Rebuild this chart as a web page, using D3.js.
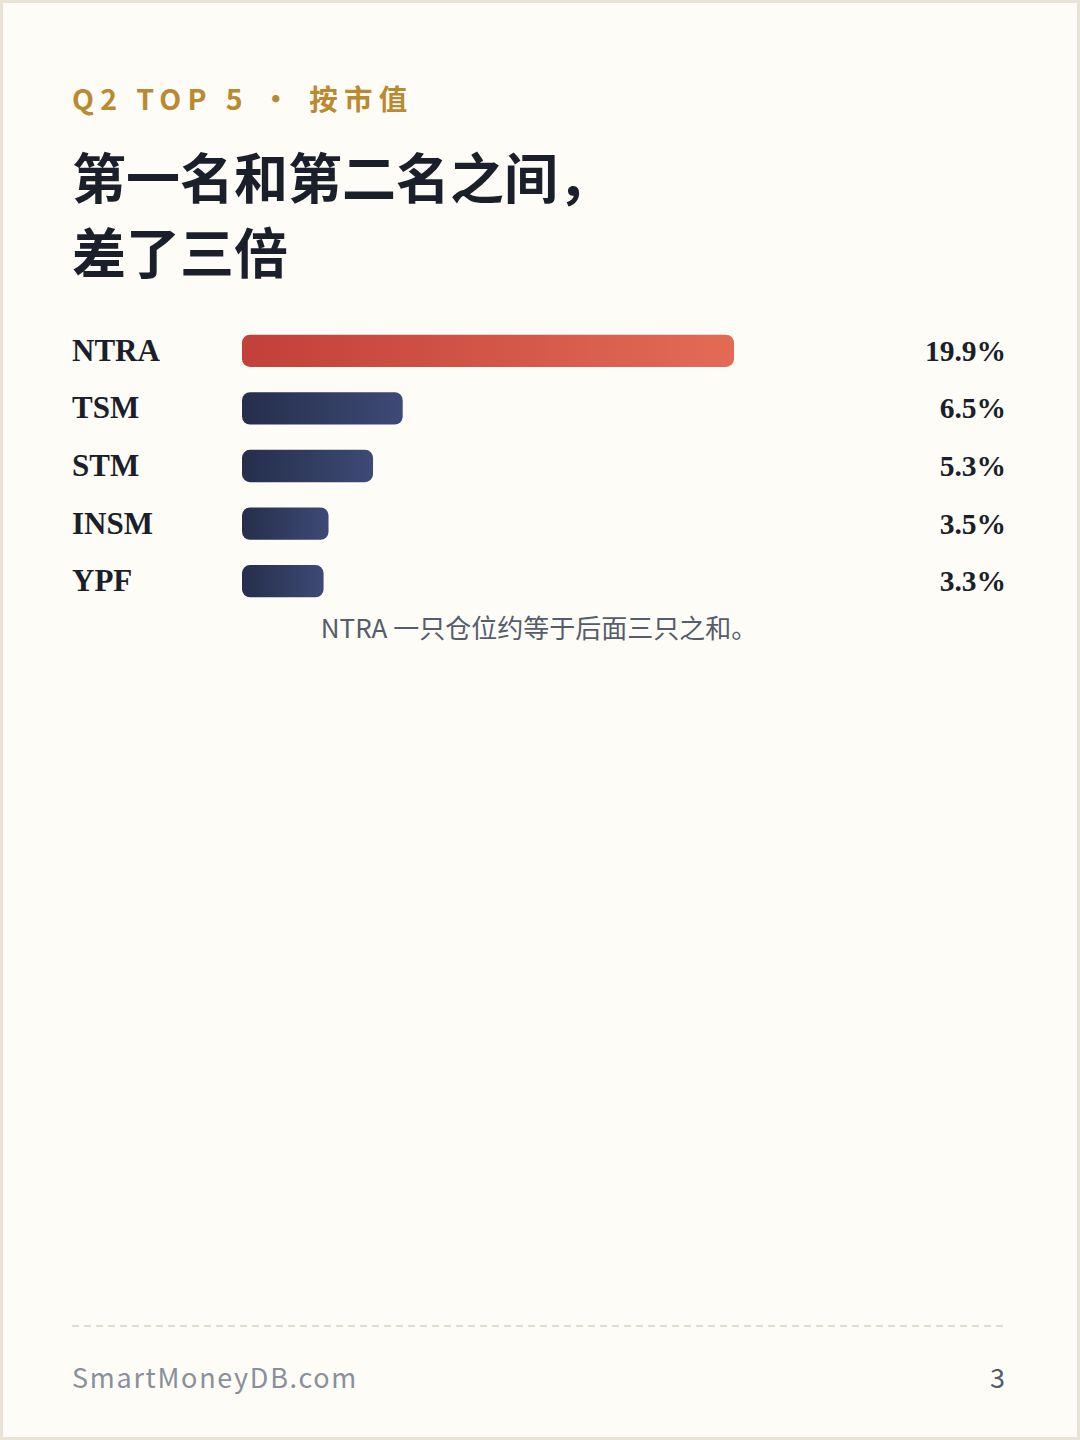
<!DOCTYPE html>
<html>
<head>
<meta charset="utf-8">
<script src="https://cdn.jsdelivr.net/npm/d3@7"></script>
<style>
  body { margin: 0; background: #fdfcf7; }
  svg { display: block; }
</style>
</head>
<body>
<script>
// data
const tickers = ["NTRA", "TSM", "STM", "INSM", "YPF"];
const weights = [19.9, 6.5, 5.3, 3.5, 3.3];
const valueLabels = ["19.9%", "6.5%", "5.3%", "3.5%", "3.3%"];

const kicker = "Q2 TOP 5 · 按市值";
const titleLines = ["第一名和第二名之间，", "差了三倍"];
const note = "NTRA 一只仓位约等于后面三只之和。";
const footerText = "SmartMoneyDB.com";
const pageNo = "3";

const W = 1080, H = 1440;
const cjk = "'Noto Sans CJK SC', 'Noto Sans', sans-serif";
const serif = "'Liberation Serif', 'Times New Roman', serif";

const svg = d3.select("body").append("svg")
  .attr("width", W)
  .attr("height", H);

// gradients for bars
const defs = svg.append("defs");
function addGrad(id, c0, c1) {
  const g = defs.append("linearGradient").attr("id", id)
    .attr("x1", "0%").attr("x2", "100%").attr("y1", "0%").attr("y2", "0%");
  g.append("stop").attr("offset", "0%").attr("stop-color", c0);
  g.append("stop").attr("offset", "100%").attr("stop-color", c1);
}
addGrad("gradTop", "#c1403a", "#e36b56");
addGrad("gradRest", "#252e4b", "#3e4a76");

// page + frame
svg.append("rect")
  .attr("x", 1.5).attr("y", 1.5)
  .attr("width", W - 3).attr("height", H - 3)
  .attr("fill", "#fdfcf7")
  .attr("stroke", "#e8e3d5")
  .attr("stroke-width", 3);

// header
svg.append("text")
  .attr("x", 72).attr("y", 110)
  .attr("font-family", cjk)
  .attr("font-weight", 700)
  .attr("font-size", 28.5)
  .attr("letter-spacing", 6.3)
  .attr("fill", "#b98a30")
  .text(kicker);

svg.append("g").selectAll("text")
  .data(titleLines)
  .join("text")
  .attr("x", 72)
  .attr("y", (d, i) => 199 + i * 75)
  .attr("font-family", cjk)
  .attr("font-weight", 700)
  .attr("font-size", 54)
  .attr("fill", "#1b1f29")
  .text(d => d);

// bars
const x = d3.scaleLinear()
  .domain([0, d3.max(weights)])
  .range([242, 734]);

const y = d3.scaleBand()
  .domain(tickers)
  .range([322, 610])
  .paddingInner(0.44)
  .paddingOuter(0.22);

const rows = svg.append("g").selectAll("g")
  .data(tickers)
  .join("g");

rows.append("rect")
  .attr("x", x(0))
  .attr("y", d => y(d))
  .attr("width", (d, i) => x(weights[i]) - x(0))
  .attr("height", y.bandwidth())
  .attr("rx", 8)
  .attr("fill", (d, i) => i === 0 ? "url(#gradTop)" : "url(#gradRest)");

rows.append("text")
  .attr("x", 72)
  .attr("y", d => y(d) + y.bandwidth() / 2 + 10)
  .attr("font-family", serif)
  .attr("font-weight", 700)
  .attr("font-size", 31)
  .attr("fill", "#1b1f29")
  .text(d => d);

rows.append("text")
  .attr("x", 1006)
  .attr("y", d => y(d) + y.bandwidth() / 2 + 10)
  .attr("text-anchor", "end")
  .attr("font-family", serif)
  .attr("font-weight", 700)
  .attr("font-size", 29.5)
  .attr("fill", "#1b1f29")
  .text((d, i) => valueLabels[i]);

// note under bars
svg.append("text")
  .attr("x", 539).attr("y", 638)
  .attr("text-anchor", "middle")
  .attr("font-family", cjk)
  .attr("font-size", 26)
  .attr("fill", "#555c6b")
  .text(note);

// footer
svg.append("line")
  .attr("x1", 72).attr("x2", 1006)
  .attr("y1", 1326).attr("y2", 1326)
  .attr("stroke", "#e0dccf")
  .attr("stroke-width", 2)
  .attr("stroke-dasharray", "7,5");

svg.append("text")
  .attr("x", 72).attr("y", 1388)
  .attr("font-family", cjk)
  .attr("font-size", 27)
  .attr("letter-spacing", 1.7)
  .attr("fill", "#8a8f9a")
  .text(footerText);

svg.append("text")
  .attr("x", 1005).attr("y", 1388)
  .attr("text-anchor", "end")
  .attr("font-family", cjk)
  .attr("font-size", 27)
  .attr("fill", "#555c6b")
  .text(pageNo);
</script>
</body>
</html>
